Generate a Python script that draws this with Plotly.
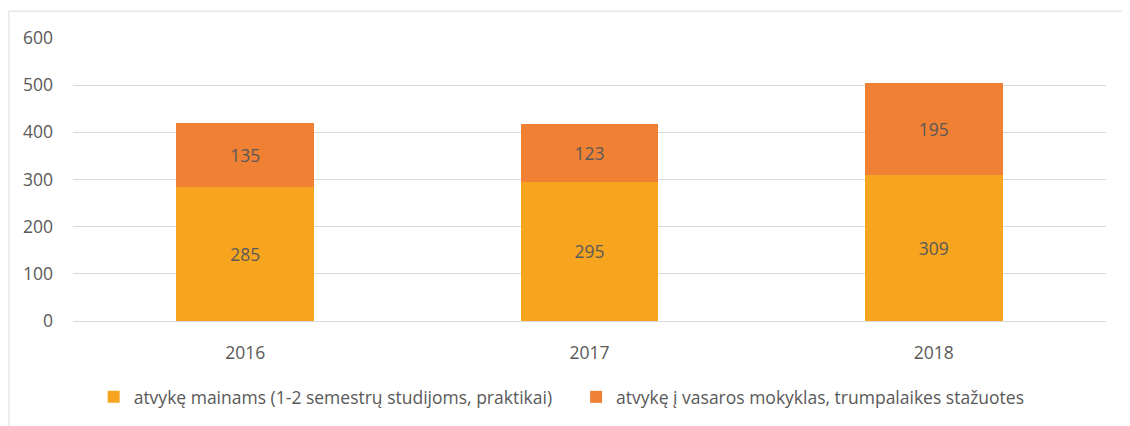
import plotly.graph_objects as go

years = ["2016", "2017", "2018"]
mainams = [285, 295, 309]
vasaros = [135, 123, 195]
series_names = ["atvykę mainams (1-2 semestrų studijoms, praktikai)",
                "atvykę į vasaros mokyklas, trumpalaikes stažuotes"]
y_ticks = [0, 100, 200, 300, 400, 500, 600]

FONT = "Open Sans"
GRAY = "#595959"
FS = 17.5

fig = go.Figure()
fig.add_trace(go.Bar(x=years, y=mainams, name=series_names[0], legend="legend",
                     marker=dict(color="#F7A51E", line=dict(width=0)),
                     text=mainams, textposition="inside", insidetextanchor="middle",
                     textfont=dict(color=GRAY, size=FS, family=FONT)))
fig.add_trace(go.Bar(x=years, y=vasaros, name=series_names[1], legend="legend2",
                     marker=dict(color="#F08134", line=dict(width=0)),
                     text=vasaros, textposition="inside", insidetextanchor="middle",
                     textfont=dict(color=GRAY, size=FS, family=FONT)))

leg_common = dict(orientation="h", y=-0.264, yanchor="middle", xanchor="left",
                  font=dict(size=FS, color=GRAY, family=FONT), itemwidth=30,
                  bgcolor="rgba(0,0,0,0)")

fig.update_layout(
    barmode="stack", bargap=0.6,
    width=1122, height=418,
    margin=dict(l=65, r=24, t=30, b=104),
    paper_bgcolor="white", plot_bgcolor="white",
    font=dict(family=FONT, size=FS, color=GRAY),
    showlegend=True,
    legend=dict(x=0.02, **leg_common),
    legend2=dict(x=0.487, **leg_common),
    shapes=[dict(type="rect", xref="paper", yref="paper",
                 x0=-0.062, x1=1.2, y0=-0.5, y1=1.095,
                 line=dict(color="#D9D9D9", width=1), fillcolor="rgba(0,0,0,0)",
                 layer="below")],
)
fig.update_yaxes(range=[0, 600], tickvals=y_ticks, showgrid=True, gridcolor="#D9D9D9",
                 gridwidth=1, zeroline=False, showline=False, ticks="",
                 ticklabelstandoff=19, tickfont=dict(size=FS, color=GRAY, family=FONT))
fig.update_xaxes(showgrid=False, showline=True, linecolor="#D9D9D9", linewidth=1,
                 ticks="", ticklabelstandoff=16,
                 tickfont=dict(size=FS, color=GRAY, family=FONT))

fig.write_html("out.html")
